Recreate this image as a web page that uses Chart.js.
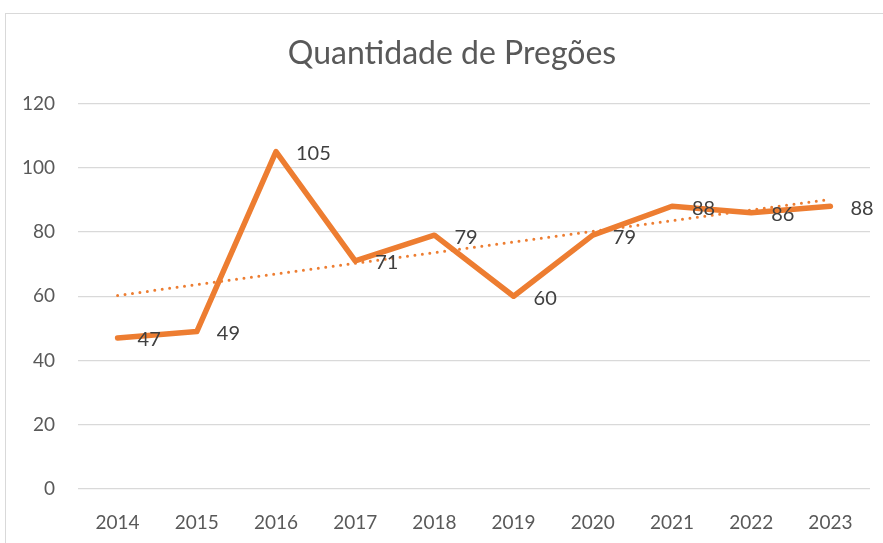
<!DOCTYPE html>
<html>
<head>
<meta charset="utf-8">
<script src="https://cdn.jsdelivr.net/npm/chart.js@4"></script>
<style>
  html, body { margin: 0; padding: 0; background: #fff; }
  #frame {
    position: absolute; left: 5px; top: 13px; width: 900px; height: 560px;
    border: 1px solid #d9d9d9; box-sizing: border-box;
  }
  #wrap { position: absolute; left: 0; top: 0; width: 883px; height: 543px; }
</style>
</head>
<body>
<div id="frame"></div>
<div id="wrap"><canvas id="chart"></canvas></div>
<script>
const years = ["2014", "2015", "2016", "2017", "2018", "2019", "2020", "2021", "2022", "2023"];
const pregoes = [47, 49, 105, 71, 79, 60, 79, 88, 86, 88];
const yTicks = [0, 20, 40, 60, 80, 100, 120];
const chartTitle = "Quantidade de Pregões";

// linear trend line (least squares over the category index)
function linearTrend(values) {
  const n = values.length;
  let sx = 0, sy = 0, sxy = 0, sxx = 0;
  values.forEach((v, i) => { sx += i; sy += v; sxy += i * v; sxx += i * i; });
  const slope = (n * sxy - sx * sy) / (n * sxx - sx * sx);
  const icpt = (sy - slope * sx) / n;
  return values.map((_, i) => icpt + slope * i);
}

// value labels to the right of each point
const valueLabels = {
  id: "valueLabels",
  afterDatasetsDraw(chart) {
    const ctx = chart.ctx;
    const meta = chart.getDatasetMeta(0);
    ctx.save();
    ctx.font = "20px Lato";
    ctx.fillStyle = "#404040";
    ctx.textAlign = "left";
    ctx.textBaseline = "middle";
    meta.data.forEach((pt, i) => {
      ctx.fillText(String(pregoes[i]), pt.x + 20, pt.y + 2);
    });
    ctx.restore();
  }
};

// title centred over the whole frame (the built-in one only reserves the space)
const frameTitle = {
  id: "frameTitle",
  afterDraw(chart) {
    const tb = chart.titleBlock;
    const ctx = chart.ctx;
    ctx.save();
    ctx.font = "32px Lato";
    ctx.fillStyle = "#595959";
    ctx.textAlign = "center";
    ctx.textBaseline = "middle";
    ctx.fillText(chartTitle, 452, (tb.top + tb.bottom) / 2 + 2);
    ctx.restore();
  }
};

new Chart(document.getElementById("chart"), {
  type: "line",
  data: {
    labels: years,
    datasets: [
      {
        label: "Quantidade",
        data: pregoes,
        borderColor: "#ED7D31",
        borderWidth: 5.5,
        pointRadius: 0,
        tension: 0,
        borderJoinStyle: "round",
        borderCapStyle: "round",
        order: 1,
      },
      {
        label: "Tendência",
        data: linearTrend(pregoes),
        borderColor: "#ED7D31",
        borderWidth: 3,
        borderDash: [0, 7.5],
        borderCapStyle: "round",
        pointRadius: 0,
        order: 0,
      },
    ],
  },
  options: {
    responsive: true,
    maintainAspectRatio: false,
    animation: false,
    layout: { padding: { left: 0, right: 13, top: 0, bottom: 0 } },
    plugins: {
      legend: { display: false },
      tooltip: { enabled: false },
      title: {
        display: true,
        text: chartTitle,
        color: "rgba(0,0,0,0)",
        font: { family: "Lato", size: 32, weight: "normal" },
        padding: { top: 35, bottom: 30 },
      },
    },
    scales: {
      x: {
        offset: true,
        grid: { display: false },
        border: { display: false },
        ticks: {
          color: "#595959",
          font: { family: "Lato", size: 19 },
          padding: 14,
          maxRotation: 0,
        },
        afterFit: (s) => { s.height = 54; },
      },
      y: {
        min: 0,
        max: 120,
        afterBuildTicks: (s) => { s.ticks = yTicks.map((v) => ({ value: v })); },
        grid: { color: "#d9d9d9", lineWidth: 1.3, drawTicks: false },
        border: { display: false },
        ticks: {
          color: "#595959",
          font: { family: "Lato", size: 19 },
          padding: 23,
        },
        afterFit: (s) => { s.width = 78; },
      },
    },
  },
  plugins: [valueLabels, frameTitle],
});
</script>
</body>
</html>
